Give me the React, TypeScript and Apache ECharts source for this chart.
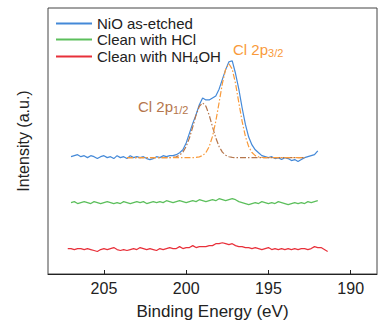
import React, { useEffect, useRef } from "react";
import * as echarts from "echarts";

// ---- Data (binding energy in eV, intensity in arbitrary units) ----
const xTicks = [205, 200, 195, 190];
const seriesNames = ["NiO as-etched", "Clean with HCl", "Clean with NH4OH"];

// NiO as-etched: sampled from 207.0 eV down to 192.0 eV, step 0.2 eV
const blueStart = 207.0;
const blueValues = [
  120, 121, 122, 120, 121, 119, 121, 120, 118, 120, 121, 119, 120, 118, 121, 119,
  120, 118, 121, 119, 120, 119, 120, 118, 117, 118, 120, 119, 121, 120, 121, 121,
  122, 124, 127, 134, 144, 154, 163, 173, 180, 178, 178, 180, 182, 189, 199, 209,
  217, 218, 205, 189, 170, 153, 140, 132, 127, 124, 121,
  120, 119, 120, 118, 119, 117, 119, 118, 116, 117, 115, 117, 119, 120, 121, 122, 126,
];

// Clean with HCl: 207.0 eV down to 192.0 eV, step 0.2 eV
const greenStart = 207.0;
const greenValues = [
  73, 74, 72, 73, 74, 73, 72, 74, 73, 72,
  73, 74, 73, 72, 73, 72, 74, 73, 72, 73,
  74, 73, 74, 72, 73, 74, 73, 74, 73, 75,
  74, 73, 74, 75, 74, 73, 74, 75, 74, 76,
  75, 74, 75, 76, 75, 77, 76, 75, 76, 77,
  76, 74, 73, 72, 71, 72, 73, 72, 74, 73,
  72, 73, 72, 74, 73, 72, 71, 72, 73, 72,
  73, 72, 74, 73, 74, 75,
];

// Clean with NH4OH: 207.2 eV down to 191.4 eV, step 0.2 eV
const redStart = 207.2;
const redValues = [
  26, 26, 25, 26, 26, 25, 26, 25, 24, 23,
  25, 26, 25, 26, 27, 25, 24, 25, 24, 25,
  26, 25, 27, 26, 25, 26, 25, 24, 26, 25,
  26, 27, 26, 26, 28, 26, 27, 27, 29, 27,
  28, 28, 28, 29, 29, 31, 31, 32, 31, 30,
  31, 29, 28, 28, 27, 27, 26, 27, 26, 25,
  26, 27, 25, 26, 25, 26, 25, 26, 25, 26,
  25, 26, 26, 25, 26, 28, 27, 27, 25, 23,
];

// Fitted components: 203.6 eV down to 192.8 eV, step 0.2 eV
const fitStart = 203.6;
const fit2p12 = [
  119, 119, 119, 119, 119, 119, 119, 119, 119, 119, 119, 119, 119, 119,
  119.3, 119.9, 121.5, 124.6, 130.4, 139.2, 150.5, 162.4, 171.5, 175,
  171.5, 162.4, 150.5, 139.2, 130.4, 124.6, 121.5, 119.9, 119.3,
  119, 119, 119, 119, 119, 119, 119, 119, 119, 119, 119,
  119, 119, 119, 119, 119, 119, 119, 119, 119, 119, 119,
];
const fit2p32 = [
  119, 119, 119, 119, 119, 119, 119, 119, 119, 119, 119,
  119, 119, 119, 119, 119, 119, 119, 119, 119, 119,
  119.25, 119.8, 121.1, 124.2, 130.3, 140.7, 156.1, 175.2, 194.7, 209.5, 215,
  209.5, 194.7, 175.2, 156.1, 140.7, 130.3, 124.2, 121.1, 119.8, 119.25,
  119, 119, 119, 119, 119, 119, 119, 119, 119, 119, 119, 119, 119,
];

const STEP = 0.2;
const toPairs = (start: number, values: number[]) =>
  values.map((v, i) => [Math.round((start - STEP * i) * 100) / 100, v]);

const COLORS = {
  blue: "#4489d8",
  green: "#5cbf5c",
  red: "#e8303a",
  orange: "#f99a3a",
  brown: "#b5764c",
  text: "#222222",
};
const FONT = "Liberation Sans, Arial, sans-serif";

export default function App() {
  const ref = useRef<HTMLDivElement>(null);

  useEffect(() => {
    document.body.style.margin = "0";
    if (!ref.current) return;
    const chart = echarts.init(ref.current, undefined, { renderer: "svg" });

    const lineSeries = (name: string, data: number[][], color: string) => ({
      name,
      type: "line",
      data,
      symbol: "none",
      smooth: false,
      lineStyle: { color, width: 1.2 },
      itemStyle: { color },
      z: 3,
    });
    const fitSeries = (name: string, data: number[][], color: string) => ({
      name,
      type: "line",
      data,
      symbol: "none",
      lineStyle: { color, width: 1.2, type: [6, 2, 1.5, 2] },
      itemStyle: { color },
      z: 4,
    });

    chart.setOption({
      animation: false,
      grid: {
        left: 48,
        right: 1,
        top: 8,
        bottom: 45,
        show: true,
        borderColor: "#444",
        borderWidth: 1,
        backgroundColor: "transparent",
      },
      legend: {
        data: seriesNames,
        orient: "vertical",
        left: 55,
        top: 16,
        padding: 0,
        itemWidth: 36,
        itemHeight: 14,
        itemGap: 1,
        itemStyle: { opacity: 0 },
        formatter: (name: string) =>
          name === "Clean with NH4OH"
            ? "{n|Clean with NH}{s|4}{n|OH}"
            : "{n|" + name + "}",
        textStyle: {
          color: COLORS.text,
          fontFamily: FONT,
          fontSize: 15,
          lineHeight: 14,
          rich: {
            n: { fontSize: 15, fontFamily: FONT, color: COLORS.text, lineHeight: 14 },
            s: { fontSize: 10, fontFamily: FONT, color: COLORS.text, lineHeight: 14, padding: [7, 0, 0, 0] },
          },
        },
      },
      xAxis: {
        type: "value",
        inverse: true,
        min: 188.4,
        max: 208.4,
        name: "Binding Energy (eV)",
        nameLocation: "middle",
        nameGap: 29,
        nameTextStyle: { fontSize: 17, color: COLORS.text, fontFamily: FONT },
        axisLine: { show: true, lineStyle: { color: "#222", width: 1 } },
        axisTick: {
          show: true,
          inside: true,
          length: 4,
          customValues: xTicks,
          lineStyle: { color: "#222" },
        },
        axisLabel: {
          customValues: xTicks,
          fontSize: 16,
          color: COLORS.text,
          fontFamily: FONT,
          margin: 6,
        },
        splitLine: { show: false },
      },
      yAxis: {
        type: "value",
        min: 0,
        max: 272,
        name: "Intensity (a.u.)",
        nameLocation: "middle",
        nameGap: 17,
        nameTextStyle: { fontSize: 16, color: COLORS.text, fontFamily: FONT },
        axisLine: { show: false },
        axisTick: { show: false },
        axisLabel: { show: false },
        splitLine: { show: false },
      },
      graphic: [
        {
          type: "text",
          x: 233,
          y: 41,
          style: {
            text: "{m|Cl 2p}{s|3/2}",
            fill: COLORS.orange,
            rich: {
              m: { fontSize: 15, fontFamily: FONT, fill: COLORS.orange, lineHeight: 16 },
              s: { fontSize: 11, fontFamily: FONT, fill: COLORS.orange, lineHeight: 16, padding: [7, 0, 0, 0] },
            },
          },
          z: 10,
        },
        {
          type: "text",
          x: 138,
          y: 98,
          style: {
            text: "{m|Cl 2p}{s|1/2}",
            fill: COLORS.brown,
            rich: {
              m: { fontSize: 15, fontFamily: FONT, fill: COLORS.brown, lineHeight: 16 },
              s: { fontSize: 11, fontFamily: FONT, fill: COLORS.brown, lineHeight: 16, padding: [7, 0, 0, 0] },
            },
          },
          z: 10,
        },
      ],
      series: [
        lineSeries(seriesNames[0], toPairs(blueStart, blueValues), COLORS.blue),
        lineSeries(seriesNames[1], toPairs(greenStart, greenValues), COLORS.green),
        lineSeries(seriesNames[2], toPairs(redStart, redValues), COLORS.red),
        fitSeries("Cl 2p1/2 fit", toPairs(fitStart, fit2p12), COLORS.brown),
        fitSeries("Cl 2p3/2 fit", toPairs(fitStart, fit2p32), COLORS.orange),
      ],
    });

    return () => chart.dispose();
  }, []);

  return (
    <div
      ref={ref}
      style={{ width: 378, height: 325, position: "absolute", left: 0, top: 0 }}
    />
  );
}
